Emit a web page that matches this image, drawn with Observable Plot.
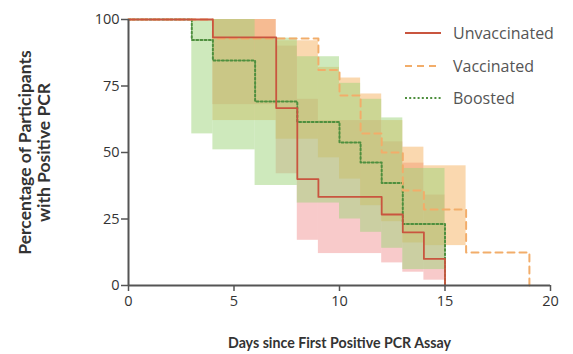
<!DOCTYPE html>
<html><head><meta charset="utf-8">
<script src="https://cdn.jsdelivr.net/npm/d3@7"></script>
<script src="https://cdn.jsdelivr.net/npm/@observablehq/plot@0.6"></script>
<style>
body{margin:0;background:#fff;font-family:"Open Sans",sans-serif;}
#wrap{position:relative;width:573px;height:354px;}
#legend{position:absolute;left:405px;top:17px;font-size:16px;color:#555;line-height:32.5px;}
#legend div{display:flex;align-items:center;}
#legend svg{margin-right:12px;}
</style></head><body>
<div id="wrap"><div id="chart"></div>
<div id="legend"></div></div>
<script>
// Kaplan–Meier style step data (day where the step starts, percentage)
const seriesNames = ["Unvaccinated", "Vaccinated", "Boosted"];
const unvacDays = [0, 4, 7, 8, 9, 12, 13, 14, 15];
const unvacPct  = [100, 93.3, 66.7, 40, 33.3, 26.7, 20, 10, 0];
const unvacLo   = [100, 68, 42, 17, 12, 8.5, 5, 2];
const unvacHi   = [100, 100, 90, 70, 62, 54, 46, 34];

const vacDays = [0, 4, 7, 9, 10, 11, 12, 13, 14, 16, 19];
const vacPct  = [100, 92.9, 92.9, 81, 71.4, 57.1, 50, 35.7, 28.6, 12.4, 0];
const vacLo   = [100, 62, 55, 48, 40, 30, 24, 16, 15, 12.4];
const vacHi   = [100, 100, 92, 82, 78, 72, 62, 52, 45, 12.4];

const boostDays = [0, 3, 4, 6, 8, 10, 11, 12, 13, 15];
const boostPct  = [100, 92.3, 84.6, 69.2, 61.5, 53.8, 46.2, 38.5, 23.1, 0];
const boostLo   = [100, 57, 51, 37.6, 31, 25, 20, 14, 6];
const boostHi   = [100, 100, 100, 93, 86, 76, 70, 63, 44];

const xTicks = [0, 5, 10, 15, 20];
const yTicks = [0, 25, 50, 75, 100];

const colors = {Unvaccinated: "#c9553f", Vaccinated: "#f2ad6a", Boosted: "#4e8f3e"};
const bandColors = {Unvaccinated: "#f08a8a", Vaccinated: "#f5a84e", Boosted: "#9dd37a"};
const dashes = {Unvaccinated: null, Vaccinated: "7,5", Boosted: "2,2.2"};

function steps(name, days, pct) {
  return days.map((d, i) => ({series: name, day: d, pct: pct[i]}));
}
function bands(name, days, lo, hi) {
  const out = [];
  for (let i = 0; i < lo.length; i++) {
    if (hi[i] - lo[i] > 0.01) out.push({series: name, x1: days[i], x2: days[i + 1], lo: lo[i], hi: hi[i]});
  }
  return out;
}
const lineData = {
  Unvaccinated: steps("Unvaccinated", unvacDays, unvacPct),
  Vaccinated: steps("Vaccinated", vacDays, vacPct),
  Boosted: steps("Boosted", boostDays, boostPct)
};
const bandData = {
  Unvaccinated: bands("Unvaccinated", unvacDays, unvacLo, unvacHi),
  Vaccinated: bands("Vaccinated", vacDays, vacLo, vacHi),
  Boosted: bands("Boosted", boostDays, boostLo, boostHi)
};

const bandMarks = ["Unvaccinated", "Vaccinated", "Boosted"].map(n =>
  Plot.rect(bandData[n], {x1: "x1", x2: "x2", y1: "lo", y2: "hi", fill: bandColors[n], fillOpacity: n === "Boosted" ? 0.5 : 0.45, style: {mixBlendMode: "multiply"}})
);
const lineMarks = ["Boosted", "Vaccinated", "Unvaccinated"].map(n =>
  Plot.line(lineData[n], {x: "day", y: "pct", curve: "step-after", stroke: colors[n], strokeWidth: n === "Unvaccinated" ? 1.8 : 2, strokeDasharray: dashes[n]})
);

const chart = Plot.plot({
  width: 573, height: 354,
  marginLeft: 128, marginRight: 23, marginTop: 19, marginBottom: 69,
  x: {domain: [0, 20]},
  y: {domain: [0, 100]},
  style: {fontFamily: "Open Sans, sans-serif", fontSize: "14px", color: "#333", background: "#fff"},
  marks: [
    ...bandMarks,
    ...lineMarks,
    Plot.ruleY([0], {x1: 0, x2: 20, stroke: "#555", strokeWidth: 2}),
    Plot.ruleX([0], {y1: 0, y2: 100, stroke: "#555", strokeWidth: 2}),
    Plot.axisX({ticks: xTicks, tickSize: 6, tickPadding: 4, stroke: "#555", strokeWidth: 1.5, fontSize: 14.5, fill: "#333", label: null}),
    Plot.axisY({ticks: yTicks, tickSize: 7, tickPadding: 2, stroke: "#555", strokeWidth: 1.5, fontSize: 14.5, fill: "#333", label: null}),
    Plot.text(["Days since First Positive PCR Assay"], {frameAnchor: "bottom", dy: 62, fontFamily: "Lato, sans-serif", fontSize: 14.2, fontWeight: "bold", fill: "#333"}),
    Plot.text(["Percentage of Participants\nwith Positive PCR"], {frameAnchor: "left", dx: -94, rotate: -90, textAnchor: "middle", lineAnchor: "middle", fontFamily: "Lato, sans-serif", fontSize: 17.5, fontWeight: "bold", fill: "#333", lineHeight: 1.1})
  ]
});
document.getElementById("chart").appendChild(chart);

const legend = document.getElementById("legend");
seriesNames.forEach(n => {
  const row = document.createElement("div");
  row.innerHTML = `<svg width="36" height="10"><line x1="0" x2="36" y1="5" y2="5" stroke="${colors[n]}" stroke-width="2" ${dashes[n] ? `stroke-dasharray="${dashes[n]}"` : ""}/></svg><span>${n}</span>`;
  legend.appendChild(row);
});
</script>
</body></html>
